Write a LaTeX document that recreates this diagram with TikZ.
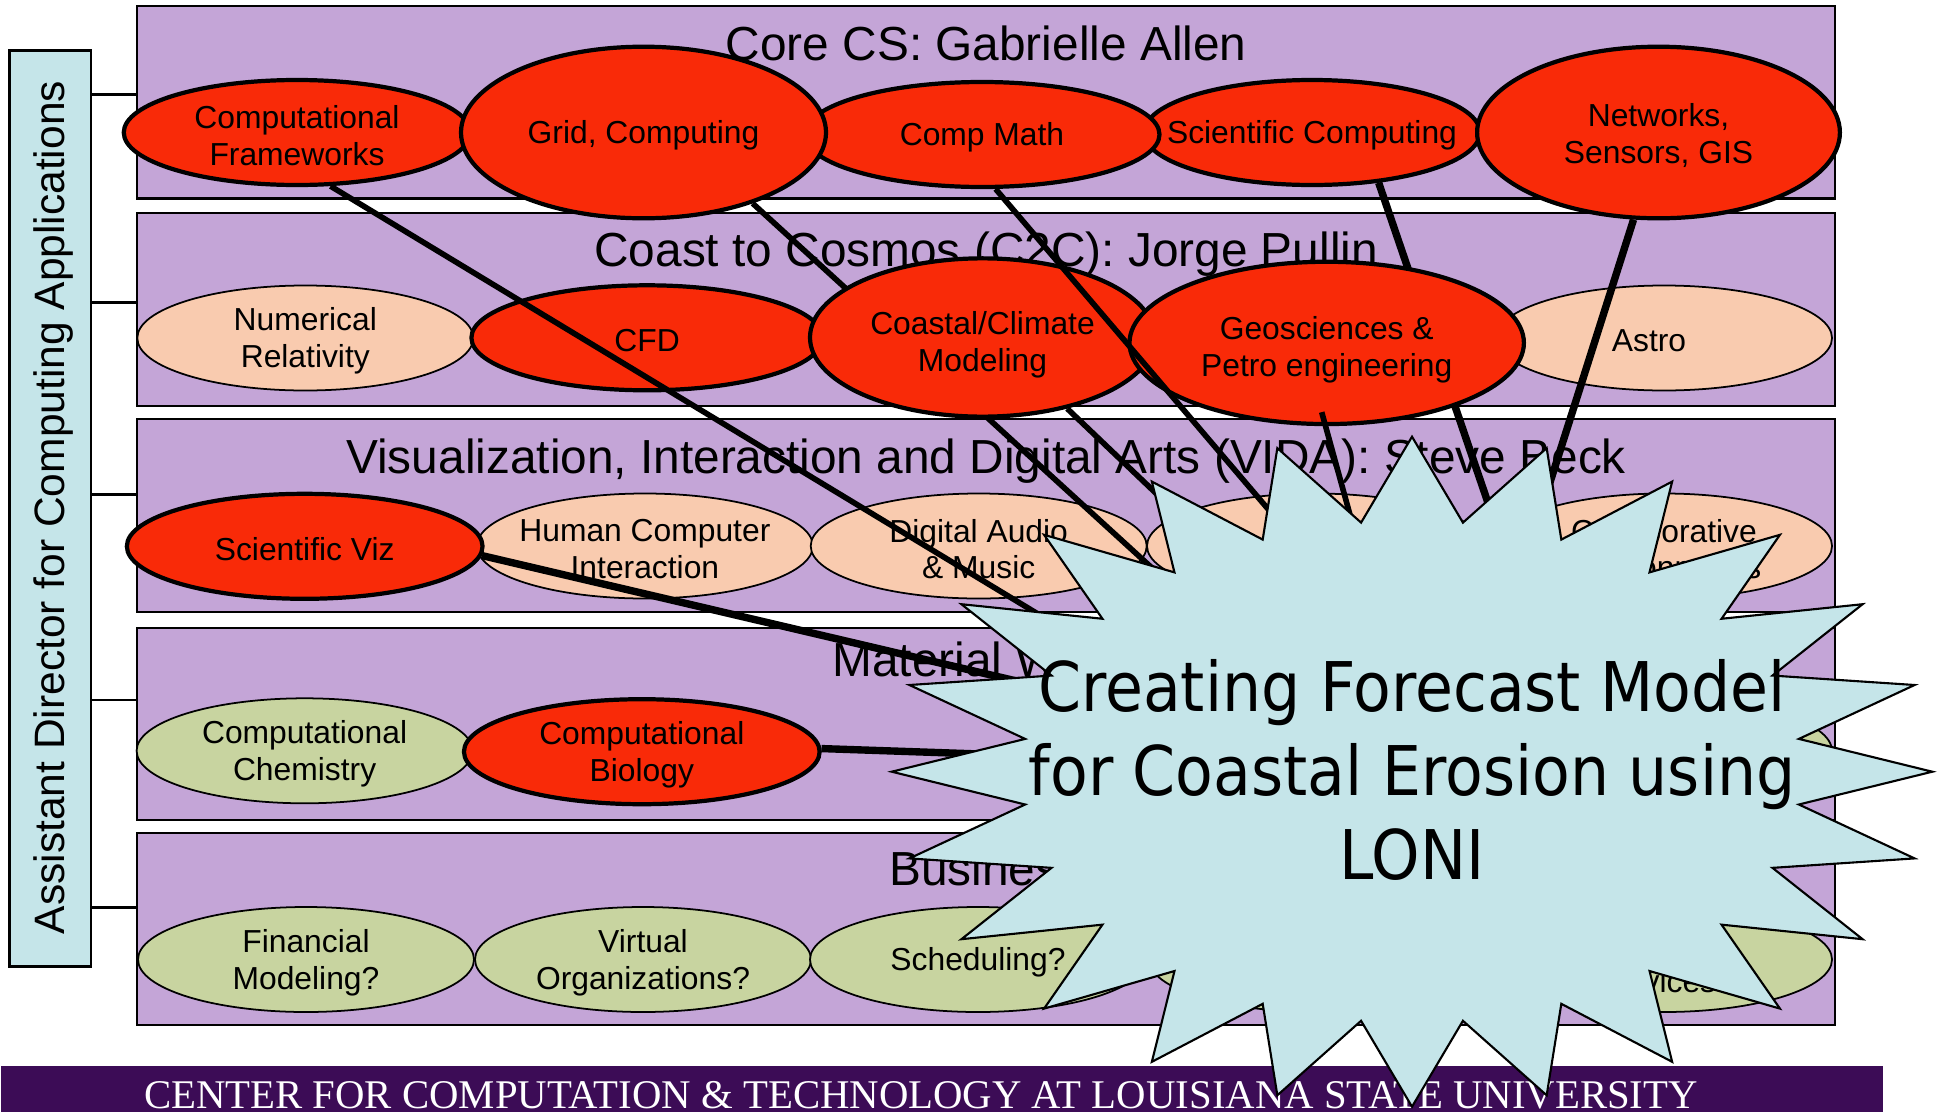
\documentclass[tikz,border=0pt]{standalone}
\usepackage{fontspec}
\setmainfont{Liberation Sans}
\newfontfamily\bannerfont{Liberation Serif}
\newfontfamily\burstfont[FakeStretch=0.90]{DejaVu Sans}
\usetikzlibrary{shapes}

\definecolor{bandpurple}{RGB}{196,165,215}
\definecolor{cctred}{RGB}{249,42,8}
\definecolor{peach}{RGB}{249,203,175}
\definecolor{sage}{RGB}{200,212,160}
\definecolor{paleblue}{RGB}{197,229,233}
\definecolor{lsupurple}{RGB}{60,12,86}

\begin{document}
\begin{tikzpicture}[
        band/.style={rectangle, draw, line width=0.6pt, fill=bandpurple, minimum width=16.977cm, minimum height=1.925cm, inner sep=0pt},
        title/.style={anchor=base, inner sep=0pt, font=\fontsize{13.6}{16}\selectfont},
        area/.style={ellipse, draw, inner sep=0pt, minimum width=3.36cm, minimum height=1.05cm},
        peacharea/.style={area, fill=peach, line width=0.5pt},
        sagearea/.style={area, fill=sage, line width=0.5pt},
        hotarea/.style={area, fill=cctred, line width=1.2pt},
        lbl/.style={align=center, inner sep=0pt, yshift=-0.03cm, font=\fontsize{9.05}{10.4}\selectfont},
        tie/.style={-, line width=0.7pt},
        link/.style={-, line width=1.6pt},
        biglink/.style={-, line width=2.1pt},
        burst/.style={draw, fill=paleblue, line width=0.6pt, line join=miter}
    ]
    \useasboundingbox (0,0) rectangle (19.37,11.13);

    % Footer strip
    \node[fill=lsupurple, anchor=south west, minimum width=18.82cm, minimum height=0.463cm, inner sep=0pt] (footer) at (0,0) {};
    \node[text=white, inner sep=0pt, font=\bannerfont\fontsize{11.6}{13}\selectfont] (footertext) at (9.21,0.175) {CENTER FOR COMPUTATION \& TECHNOLOGY AT LOUISIANA STATE UNIVERSITY};

    % Assistant director
    \node[draw, fill=paleblue, line width=0.8pt, minimum width=0.817cm, minimum height=9.16cm, inner sep=0pt] (adir) at (0.5015,6.043) {};
    \node[rotate=90, anchor=base, inner sep=0pt, font=\fontsize{12.1}{14}\selectfont] (adirtext) at (0.65,6.055) {Assistant Director for Computing Applications};

    \foreach \i/\y in {1/10.187, 2/8.107, 3/6.187, 4/4.13, 5/2.057}
        \draw[tie] (adir.east |- 0,\y) -- (1.373,\y);

    % Focus areas
    \foreach \i/\y/\base/\name in {1/10.1075/10.53/{Core CS: Gabrielle Allen},
            2/8.0345/8.463/{Coast to Cosmos (C2C): Jorge Pullin},
            3/5.9745/6.397/{Visualization, Interaction and Digital Arts (VIDA): Steve Beck},
            4/3.8905/4.363/{Material World},
            5/1.8405/2.273/{Business}}
    {
        \node[band] (band\i) at (9.8615,\y) {};
        \node[title] (title\i) at (9.8615,\base) {\name};
    }

    % Projects
    \foreach \nm/\pos/\txt in {numrel/{3.053,7.75}/{Numerical\\Relativity},
            hci/{6.449,5.67}/{Human Computer\\Interaction},
            dam/{9.787,5.67}/{Digital Audio\\\& Music},
            vida4/{13.15,5.67}/{},
            collab/{16.64,5.67}/{Collaborative\\Environments}}
    {
        \node[peacharea] (\nm) at (\pos) {};
        \node[lbl] (\nm-t) at (\nm) {\txt};
    }
    \node[peacharea] (astro) at (16.64,7.75) {};
    \node[lbl, xshift=-0.15cm] (astro-t) at (astro) {Astro};

    \foreach \nm/\pos/\txt in {cchem/{3.046,3.622}/{Computational\\Chemistry},
            mat5/{16.64,3.62}/{},
            fin/{3.06,1.535}/{Financial\\Modeling?},
            vorg/{6.43,1.535}/{Virtual\\Organizations?},
            sched/{9.78,1.535}/{Scheduling?},
            bus4/{13.17,1.535}/{},
            bus5/{16.64,1.535}/{Web\\Services?}}
    {
        \node[sagearea] (\nm) at (\pos) {};
        \node[lbl] (\nm-t) at (\nm) {\txt};
    }
    \foreach \nm/\pos/\w/\txt in {scomp/{13.12,9.805}/3.36/{Scientific Computing},
            cmath/{9.82,9.785}/3.55/{Comp Math},
            cfw/{2.97,9.805}/3.465/{Computational\\Frameworks},
            cfd/{6.471,7.752}/3.514/CFD,
            sviz/{3.047,5.667}/3.557/{Scientific Viz},
            cbio/{6.418,3.613}/3.557/{Computational\\Biology}}
    {
        \node[hotarea, minimum width=\w cm] (\nm) at (\pos) {};
        \node[lbl] (\nm-t) at (\nm) {\txt};
    }

    \node[hotarea, minimum width=3.65cm, minimum height=1.716cm] (grid) at (6.435,9.805) {};
    \node[lbl] (grid-t) at (grid) {Grid, Computing};
    \node[hotarea, minimum width=3.628cm, minimum height=1.716cm] (net) at (16.585,9.805) {};
    \node[lbl] (net-t) at (net) {Networks,\\Sensors, GIS};

    % Links into the project
    \coordinate (e-cfw) at (12.00,4.01);
    \coordinate (e-grid) at (12.60,4.464);
    \coordinate (e-coast) at (12.50,5.30);
    \coordinate (e-cmath) at (13.88,4.63);
    \coordinate (e-scomp) at (15.485,4.33);
    \coordinate (e-net) at (14.967,4.63);
    \coordinate (e-geo) at (14.01,4.13);
    \coordinate (e-sviz) at (11.50,4.007);
    \coordinate (e-cbio) at (11.50,3.532);

    \draw[link] (grid.-33) -- (e-grid);
    \draw[biglink] (scomp.-37) -- (e-scomp);

    \node[hotarea, minimum width=3.45cm, minimum height=1.583cm] (coast) at (9.825,7.755) {};
    \node[lbl, yshift=-0.04cm] (coast-t) at (coast) {Coastal/Climate\\Modeling};
    \node[hotarea, minimum width=3.944cm, minimum height=1.623cm] (geo) at (13.267,7.701) {};
    \node[lbl, yshift=-0.04cm] (geo-t) at (geo) {Geosciences \&\\Petro engineering};

    \draw[link] (cfw.-58) -- (e-cfw);
    \draw[link] (cmath.-76) -- (e-cmath);
    \draw[link] (coast.-40) -- (e-coast);
    \draw[link] ([shift={(-0.05,0.14)}]geo.south) -- (e-geo);
    \draw[biglink] (net.-106) -- (e-net);
    \draw[biglink] (sviz.-3) -- (e-sviz);
    \draw[biglink] (cbio.1) -- (e-cbio);

    % Project burst
    \draw[burst, shift={(14.12,3.413)}] (0:5.203 and 3.35)
        \foreach \a in {0,15,...,345} { -- (\a+7.5:3.902 and 2.5125) -- (\a+15:5.203 and 3.35) } -- cycle;
    \node[align=center, inner sep=0pt, font=\burstfont\fontsize{19.5}{23.9}\selectfont] (forecast) at (14.12,3.434) {Creating Forecast Model\\for Coastal Erosion using\\LONI};
\end{tikzpicture}
\end{document}
